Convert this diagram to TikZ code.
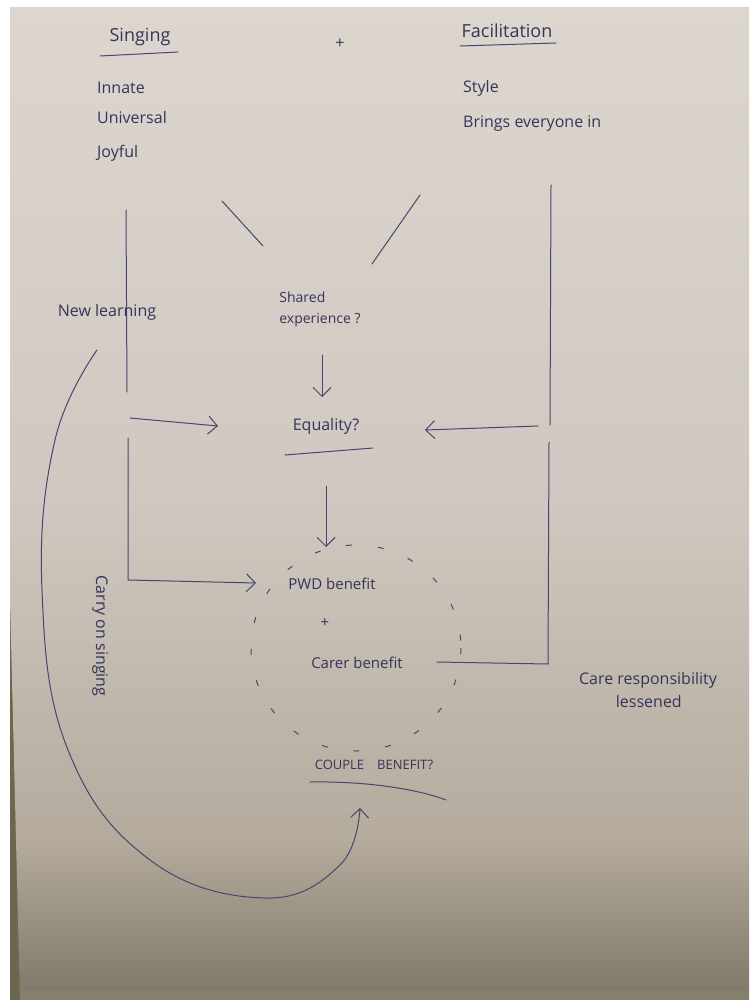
\documentclass[tikz,border=0pt]{standalone}
\usepackage{fontspec}
\setmainfont{Open Sans}
\usetikzlibrary{arrows.meta,calc}
\definecolor{paper}{HTML}{DDD6CF}
\definecolor{papermid}{HTML}{D0C8C0}
\definecolor{paperthree}{HTML}{B4AB9D}
\definecolor{paperlow}{HTML}{7E7666}
\definecolor{ink}{HTML}{45476E}
\definecolor{inktext}{HTML}{33355A}
\pgfdeclareverticalshading{papershade}{100bp}{%
  color(0bp)=(paperlow); color(25bp)=(paperlow); color(33bp)=(paperthree);
  color(50bp)=(papermid); color(75bp)=(paper); color(100bp)=(paper)}
\tikzset{
  pen/.style={draw=ink, line width=1pt, line cap=round, line join=round},
  penarrow/.style={pen, -{Straight Barb[length=9pt,width=18pt,line width=1pt]}},
  hand/.style={text=inktext, font=\fontsize{16}{18}\selectfont, inner sep=1pt},
  handl/.style={hand, anchor=west},
  small/.style={font=\fontsize{14}{16}\selectfont},
  mid/.style={font=\fontsize{15}{17}\selectfont},
  head/.style={font=\fontsize{18}{20}\selectfont},
}
\begin{document}
\begin{tikzpicture}[x=1pt,y=-1pt]
\useasboundingbox (0,0) rectangle (749,1000);
% photo frame and paper sheet
\fill[white] (0,0) rectangle (749,1000);
\fill[black!55!olive!60!gray] (10,600) rectangle (22,1000);
\shade[shading=papershade]
  (10,7) -- (749,7) -- (749,1000) -- (20,1000) -- (10,600) -- cycle;
\fill[black!40!olive!30!gray] (20,990) rectangle (749,1000);

% headings
\node[hand, head] (singing) at (140,37) {Singing};
\draw[pen] (100,56) -- (178,52);
\node[hand] (plus1) at (340,44) {+};
\node[hand, head] (facil) at (507,31) {Facilitation};
\draw[pen] (460,46) -- (556,43);

\node[handl] (innate) at (96,88) {Innate};
\node[handl] (univ) at (96,118) {Universal};
\node[handl] (joy) at (96,153) {Joyful};
\node[handl] (style) at (462,88) {Style};
\node[handl] (brings) at (462,124) {Brings everyone in};

% converging strokes
\coordinate (d1a) at (222,201); \coordinate (d1b) at (263,246);
\coordinate (d2a) at (420,195); \coordinate (d2b) at (372,264);
\draw[pen] (d1a) -- (d1b);
\draw[pen] (d2a) -- (d2b);

% centre column
\node[hand, small, align=left] (shared) at (320,309) {Shared\\[5pt]experience ?};
\node[hand] (equal) at (326,426) {Equality?};
\draw[pen] (285,455) -- (373,448);
\coordinate (sa) at (322,355); \coordinate (sb) at (322,397);
\draw[penarrow] (sa) -- (sb);
\coordinate (ea) at (326,486); \coordinate (eb) at (326,547);
\draw[penarrow] (ea) -- (eb);

% dashed circle of benefits
\draw[ink, line width=1pt, dash pattern=on 6pt off 26pt] (356,648) ellipse [x radius=105, y radius=103];
\node[hand, mid] (pwd) at (332,584) {PWD benefit};
\node[hand, mid] (plus2) at (325,623) {+};
\node[hand, mid] (carer) at (357,663) {Carer benefit};
\node[hand, align=left] (care) at (648,690) {Care responsibility\\[5pt]\hspace*{2.3em}lessened};

\node[hand, font=\fontsize{13}{15}\selectfont] (couple) at (374,765) {COUPLE\quad BENEFIT?};
\draw[pen] (310,782) .. controls (370,781) and (420,790) .. (446,800);

% left feeds
\node[hand] (newl) at (107,312) {New learning};
\node[hand, rotate=-90] (carry) at (100,636) {Carry on singing};
\coordinate (l1) at (126,210); \coordinate (l2) at (127,392);
\draw[pen] (l1) -- (l2);
\coordinate (l3) at (130,418); \coordinate (l4) at (218,426);
\draw[penarrow] (l3) -- (l4);
\coordinate (l5) at (128,438); \coordinate (l6) at (128,580); \coordinate (l7) at (256,583);
\draw[penarrow] (l5) -- (l6) -- (l7);

% right feeds
\coordinate (r1) at (551,185); \coordinate (r2) at (550,425); \coordinate (r3) at (425,430);
\draw[pen] (r1) -- (r2);
\coordinate (r2b) at (538,426);
\draw[penarrow] (r2b) -- (r3);
\coordinate (r4) at (549,442); \coordinate (r5) at (548,664); \coordinate (r6) at (437,662);
\draw[pen] (r4) -- (r5) -- (r6);

% long return loop from "New learning" round to the couple benefit
\draw[penarrow] plot[smooth, tension=0.7] coordinates
  {(97,350) (55,440) (42,590) (68,750) (150,860) (265,898) (340,865) (360,808)};
\end{tikzpicture}
\end{document}
